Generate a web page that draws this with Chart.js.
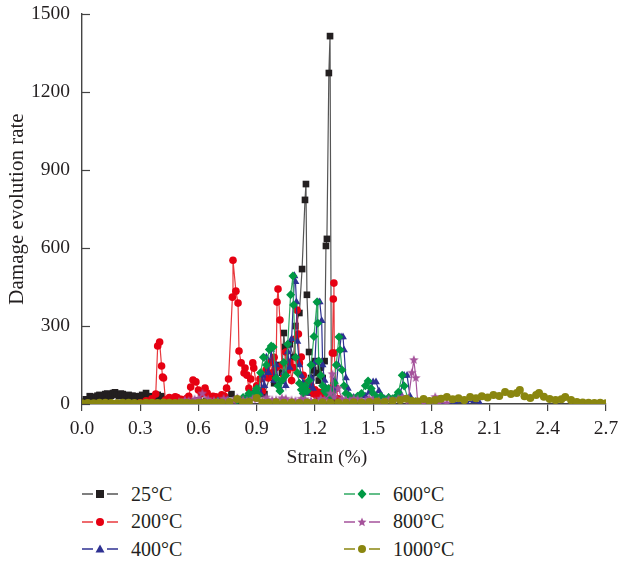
<!DOCTYPE html>
<html>
<head>
<meta charset="utf-8">
<script src="https://cdn.jsdelivr.net/npm/chart.js@4"></script>
<style>
  body { margin: 0; background: #fff; }
  #wrap { position: relative; width: 619px; height: 561px; font-family: "Liberation Serif", serif; color: #231f20; }
  #box { position: absolute; left: 0; top: 0; width: 619px; height: 470px; }
  .leg { position: absolute; display: flex; align-items: center; font-size: 20px; height: 24px; }
  .leg svg { margin-right: 13px; }
</style>
</head>
<body>
<div id="wrap">
  <div id="box"><canvas id="chart"></canvas></div>
  <div id="legend"></div>
</div>
<script>
// strain (%) / damage evolution rate
const s25 = [[0.01,8],[0.02,18],[0.03,15],[0.04,30],[0.05,28],[0.06,20],[0.07,22],[0.08,32],[0.09,35],[0.10,26],
  [0.11,30],[0.12,38],[0.13,40],[0.14,28],[0.15,32],[0.16,42],[0.17,45],[0.18,36],[0.19,30],[0.20,40],
  [0.21,38],[0.22,30],[0.23,28],[0.24,35],[0.25,25],[0.26,32],[0.27,30],[0.28,26],[0.29,22],[0.30,30],[0.31,35],
  [0.32,28],[0.33,42],[0.34,25],[0.35,18],[0.36,30],[0.37,26],[0.38,22],[0.39,35],[0.40,28],[0.41,30],
  [0.44,18],[0.48,12],[0.52,15],[0.56,10],[0.60,14],[0.64,12],[0.68,16],[0.72,20],[0.77,38],[0.80,15],[0.84,22],
  [0.88,28],[0.91,40],[0.94,38],[0.97,110],[0.99,80],[1.01,150],[1.03,120],[1.04,273],[1.045,219],[1.05,123],
  [1.07,230],[1.09,180],[1.10,300],[1.12,350],[1.134,519],[1.149,785],[1.154,846],[1.159,420],[1.17,200],
  [1.18,100],[1.19,130],[1.20,165],[1.21,119],[1.22,90],[1.23,140],[1.24,100],[1.25,165],[1.257,608],
  [1.262,635],[1.272,1273],[1.278,1415],[1.285,30],[1.29,10],[1.31,5]];

const s200 = [[0.30,5],[0.33,12],[0.36,20],[0.38,38],[0.39,223],[0.40,238],[0.41,146],[0.415,104],[0.42,100],
  [0.43,15],[0.45,25],[0.46,20],[0.48,28],[0.49,25],[0.51,18],[0.52,15],[0.54,22],[0.55,30],[0.56,65],[0.572,92],
  [0.587,85],[0.60,54],[0.615,40],[0.634,61],[0.645,42],[0.66,20],[0.675,30],[0.69,28],[0.705,22],[0.72,35],
  [0.735,30],[0.745,61],[0.755,96],[0.775,411],[0.778,553],[0.793,434],
  [0.804,388],[0.809,204],[0.82,158],[0.835,119],[0.84,138],[0.85,111],[0.86,60],[0.87,96],[0.88,158],[0.885,138],
  [0.90,70],[0.917,96],[0.93,50],[0.948,131],[0.96,100],[0.97,160],[0.98,120],[0.99,180],[1.00,140],[1.005,392],
  [1.01,442],[1.02,323],[1.03,150],[1.04,110],[1.05,200],[1.06,130],[1.07,160],[1.08,90],[1.09,140],[1.10,250],
  [1.108,361],[1.115,269],[1.12,158],[1.13,181],[1.14,110],[1.15,80],[1.16,60],[1.17,45],[1.18,70],[1.19,40],
  [1.20,55],[1.21,30],[1.22,45],[1.24,35],[1.25,50],[1.26,30],[1.27,40],[1.28,60],[1.29,196],[1.295,404],
  [1.298,465],[1.30,196],[1.31,60],[1.32,20]];

const s400 = [[0.55,5],[0.60,8],[0.65,10],[0.70,12],[0.75,15],[0.80,20],[0.83,15],[0.85,30],[0.87,20],[0.88,40],
  [0.90,25],[0.91,60],[0.92,40],[0.93,110],[0.94,70],[0.95,180],[0.96,120],[0.975,210],[0.99,90],[1.00,150],
  [1.01,95],[1.02,60],[1.03,85],[1.04,120],[1.05,70],[1.06,200],[1.07,140],[1.08,250],[1.095,492],
  [1.10,470],[1.105,392],[1.11,240],[1.12,150],[1.13,110],[1.14,80],[1.15,60],[1.16,40],[1.17,70],[1.18,100],
  [1.19,60],[1.20,160],[1.215,392],[1.225,392],[1.235,320],[1.24,150],[1.25,90],[1.26,60],[1.27,45],[1.28,30],
  [1.29,55],[1.30,90],[1.31,60],[1.32,150],[1.335,258],[1.345,258],[1.35,208],[1.36,100],
  [1.37,60],[1.38,30],[1.40,25],[1.42,20],[1.44,35],[1.46,30],[1.48,45],[1.49,60],[1.50,85],[1.515,85],[1.53,50],
  [1.545,30],[1.56,20],[1.58,25],[1.60,15],[1.62,30],[1.64,40],[1.66,110],
  [1.675,110],[1.69,30],[1.72,10],[1.78,5],[1.85,3],[1.92,4],[1.98,8],[2.02,12],[2.05,2]];

const s600 = [[0.60,5],[0.65,8],[0.70,10],[0.75,12],[0.80,15],[0.83,25],[0.85,18],[0.86,40],[0.88,30],[0.89,45],
  [0.90,60],[0.91,35],[0.92,120],[0.935,180],[0.95,150],[0.965,210],[0.975,223],[0.985,219],[1.00,100],[1.01,70],
  [1.02,50],[1.03,90],[1.04,160],[1.05,110],[1.06,230],[1.075,420],[1.087,492],[1.09,381],[1.10,180],[1.11,120],
  [1.12,80],[1.13,55],[1.14,40],[1.15,70],[1.16,50],[1.17,90],[1.18,150],[1.195,260],[1.211,392],
  [1.215,311],[1.22,165],[1.23,110],[1.24,70],[1.25,50],[1.26,40],[1.27,60],[1.28,30],[1.29,45],[1.30,80],
  [1.31,150],[1.324,258],[1.33,208],[1.34,131],[1.35,70],[1.36,40],[1.38,30],[1.40,20],[1.42,30],[1.44,40],
  [1.46,70],[1.474,88],[1.49,60],[1.50,40],[1.52,25],[1.54,30],[1.56,15],[1.58,25],[1.60,20],[1.62,30],[1.63,45],
  [1.65,111],[1.66,69],[1.68,20],[1.72,8],[1.75,4]];

const s800 = [[0.45,3],[0.50,8],[0.53,14],[0.55,12],[0.58,18],[0.60,20],[0.62,40],[0.65,18],[0.68,12],[0.70,10],
  [0.73,20],[0.75,15],[0.78,12],[0.80,22],[0.83,15],[0.85,12],[0.88,20],[0.90,18],[0.93,12],[0.95,25],[0.98,15],
  [1.00,15],[1.03,22],[1.05,20],[1.08,14],[1.10,12],[1.13,20],[1.15,18],[1.18,12],[1.20,10],[1.23,20],[1.25,16],
  [1.28,40],[1.29,115],[1.30,25],[1.32,60],[1.34,20],[1.36,15],[1.38,12],[1.40,20],[1.42,18],[1.44,12],[1.46,10],
  [1.48,22],[1.50,15],[1.53,12],[1.55,8],[1.58,18],[1.60,14],[1.63,20],[1.65,25],[1.68,10],[1.70,120],
  [1.71,169],[1.72,100],[1.73,5],[1.76,4],[1.80,8],[1.82,27],[1.84,5],[1.88,3]];

const s1000 = [[0.00,3],[0.03,4],[0.06,3],[0.09,5],[0.12,5],[0.15,4],[0.18,3],[0.21,5],[0.24,5],[0.27,4],[0.30,3],
  [0.33,5],[0.36,5],[0.39,4],[0.42,6],[0.45,5],[0.48,4],[0.51,6],[0.54,5],[0.57,3],[0.60,5],[0.63,6],[0.66,4],
  [0.69,6],[0.72,6],[0.76,8],[0.80,19],[0.83,6],[0.86,8],
  [0.90,23],[0.93,6],[0.96,5],[1.00,7],[1.04,5],[1.08,6],[1.12,4],[1.16,6],[1.20,5],[1.24,7],[1.28,5],[1.32,6],
  [1.36,5],[1.40,7],[1.44,6],[1.48,8],[1.52,10],[1.56,8],[1.60,12],[1.64,15],[1.67,20],[1.70,12],[1.73,10],
  [1.76,19],[1.79,12],[1.82,15],[1.85,20],[1.88,27],[1.91,18],[1.94,22],[1.97,15],[2.00,27],[2.03,22],[2.06,30],
  [2.09,25],[2.12,35],[2.15,31],[2.18,46],[2.21,38],[2.24,42],[2.256,54],[2.28,30],[2.31,23],[2.34,35],[2.355,42],
  [2.38,28],[2.41,19],[2.44,15],[2.47,18],[2.49,27],[2.52,15],[2.55,8],[2.58,6],[2.61,5],[2.64,4],[2.67,5],[2.70,3]];

const seriesNames = ['25°C', '200°C', '400°C', '600°C', '800°C', '1000°C'];
const seriesData = [s25, s200, s400, s600, s800, s1000];
const markColors = ['#231f20', '#e60012', '#2e3192', '#009944', '#a5529b', '#8a860f'];
const lineColors = ['#555555', '#e8383d', '#2e3192', '#2fa862', '#a5529b', '#8a860f'];
const xTicks = [0, 0.3, 0.6, 0.9, 1.2, 1.5, 1.8, 2.1, 2.4, 2.7];
const yTicks = [0, 300, 600, 900, 1200, 1500];

const axisColor = '#444';
const serif = '"Liberation Serif", "Times New Roman", serif';

// small filled five-pointed star used as point style for 800°C
function starImage(color, r) {
  const c = document.createElement('canvas');
  c.width = c.height = r * 2 + 2;
  const g = c.getContext('2d');
  g.fillStyle = color;
  g.beginPath();
  for (let i = 0; i < 10; i++) {
    const rr = i % 2 ? r * 0.42 : r;
    const a = -Math.PI / 2 + i * Math.PI / 5;
    g.lineTo(r + 1 + rr * Math.cos(a), r + 1 + rr * Math.sin(a));
  }
  g.closePath();
  g.fill();
  return c;
}

const styles = ['rect', 'circle', 'triangle', 'rectRot', starImage(markColors[4], 5), 'circle'];
const radii = [4.7, 3.8, 4.5, 4.5, 5, 4];

const datasets = seriesData.map((pts, i) => ({
  label: seriesNames[i],
  data: pts.map(p => ({ x: p[0], y: p[1] })),
  showLine: true,
  borderColor: lineColors[i],
  borderWidth: 1.2,
  pointStyle: styles[i],
  pointRadius: radii[i],
  pointBackgroundColor: markColors[i],
  pointBorderColor: markColors[i],
  pointBorderWidth: 0,
  order: seriesNames.length - i
}));

// inward tick marks on the y axis
const innerTicks = {
  id: 'innerTicks',
  afterDraw(chart) {
    const { ctx, chartArea, scales: { y } } = chart;
    ctx.save();
    ctx.strokeStyle = axisColor;
    ctx.lineWidth = 1.2;
    y.ticks.forEach(t => {
      const py = Math.round(y.getPixelForValue(t.value)) + 0.5;
      ctx.beginPath();
      ctx.moveTo(chartArea.left, py);
      ctx.lineTo(chartArea.left + 8, py);
      ctx.stroke();
    });
    ctx.restore();
  }
};

new Chart(document.getElementById('chart'), {
  type: 'scatter',
  data: { datasets },
  options: {
    responsive: true,
    maintainAspectRatio: false,
    animation: false,
    layout: { padding: { left: 0, top: 14, right: 13, bottom: 0 } },
    plugins: { legend: { display: false }, tooltip: { enabled: false } },
    scales: {
      x: {
        type: 'linear', min: 0, max: 2.7,
        afterBuildTicks: s => { s.ticks = xTicks.map(v => ({ value: v })); },
        afterFit: s => { s.height = 66; s.paddingLeft = 0; s.paddingRight = 0; },
        ticks: { font: { family: serif, size: 19.5 }, color: '#231f20', padding: 6, maxRotation: 0,
          callback: v => v.toFixed(1) },
        grid: { display: true, drawOnChartArea: false, drawTicks: true, tickLength: 7, color: axisColor, lineWidth: 1.2 },
        border: { display: true, color: axisColor, width: 1.4 },
        title: { display: true, text: 'Strain (%)       ', font: { family: serif, size: 19.5 }, color: '#231f20',
          padding: { top: 0, bottom: 0 } }
      },
      y: {
        min: 0, max: 1500,
        afterBuildTicks: s => { s.ticks = yTicks.map(v => ({ value: v })); },
        afterFit: s => { s.width = 82; s.paddingTop = 0; s.paddingBottom = 0; },
        ticks: { font: { family: serif, size: 19.5 }, color: '#231f20', padding: 4, callback: v => String(v) },
        grid: { display: false },
        border: { display: true, color: axisColor, width: 1.4 },
        title: { display: true, text: 'Damage evolution rate', font: { family: serif, size: 21 }, color: '#231f20',
          padding: { top: 5, bottom: 0 } }
      }
    }
  },
  plugins: [innerTicks]
});

// legend in two columns, line - marker - line
function markerSvg(i) {
  const c = markColors[i];
  let m;
  if (i === 0) m = `<rect x="14" y="2" width="8" height="8" fill="${c}"/>`;
  else if (i === 2) m = `<polygon points="18,1.5 22.5,9.5 13.5,9.5" fill="${c}"/>`;
  else if (i === 3) m = `<polygon points="18,1 22.5,6 18,11 13.5,6" fill="${c}"/>`;
  else if (i === 4) m = `<polygon points="18,1.5 19.2,4.6 22.5,4.8 20,6.9 20.8,10.2 18,8.4 15.2,10.2 16,6.9 13.5,4.8 16.8,4.6" fill="${c}"/>`;
  else m = `<circle cx="18" cy="6" r="4" fill="${c}"/>`;
  return `<svg width="36" height="12" viewBox="0 0 36 12">
    <line x1="0" y1="6" x2="11" y2="6" stroke="${lineColors[i]}" stroke-width="1.5"/>
    ${m}
    <line x1="25" y1="6" x2="36" y2="6" stroke="${lineColors[i]}" stroke-width="1.5"/></svg>`;
}

const legend = document.getElementById('legend');
seriesNames.forEach((name, i) => {
  const col = Math.floor(i / 3), row = i % 3;
  const el = document.createElement('div');
  el.className = 'leg';
  el.style.left = (col ? 344 : 82) + 'px';
  el.style.top = (482 + row * 27.5) + 'px';
  el.innerHTML = markerSvg(i) + `<span>${name}</span>`;
  legend.appendChild(el);
});
</script>
</body>
</html>
